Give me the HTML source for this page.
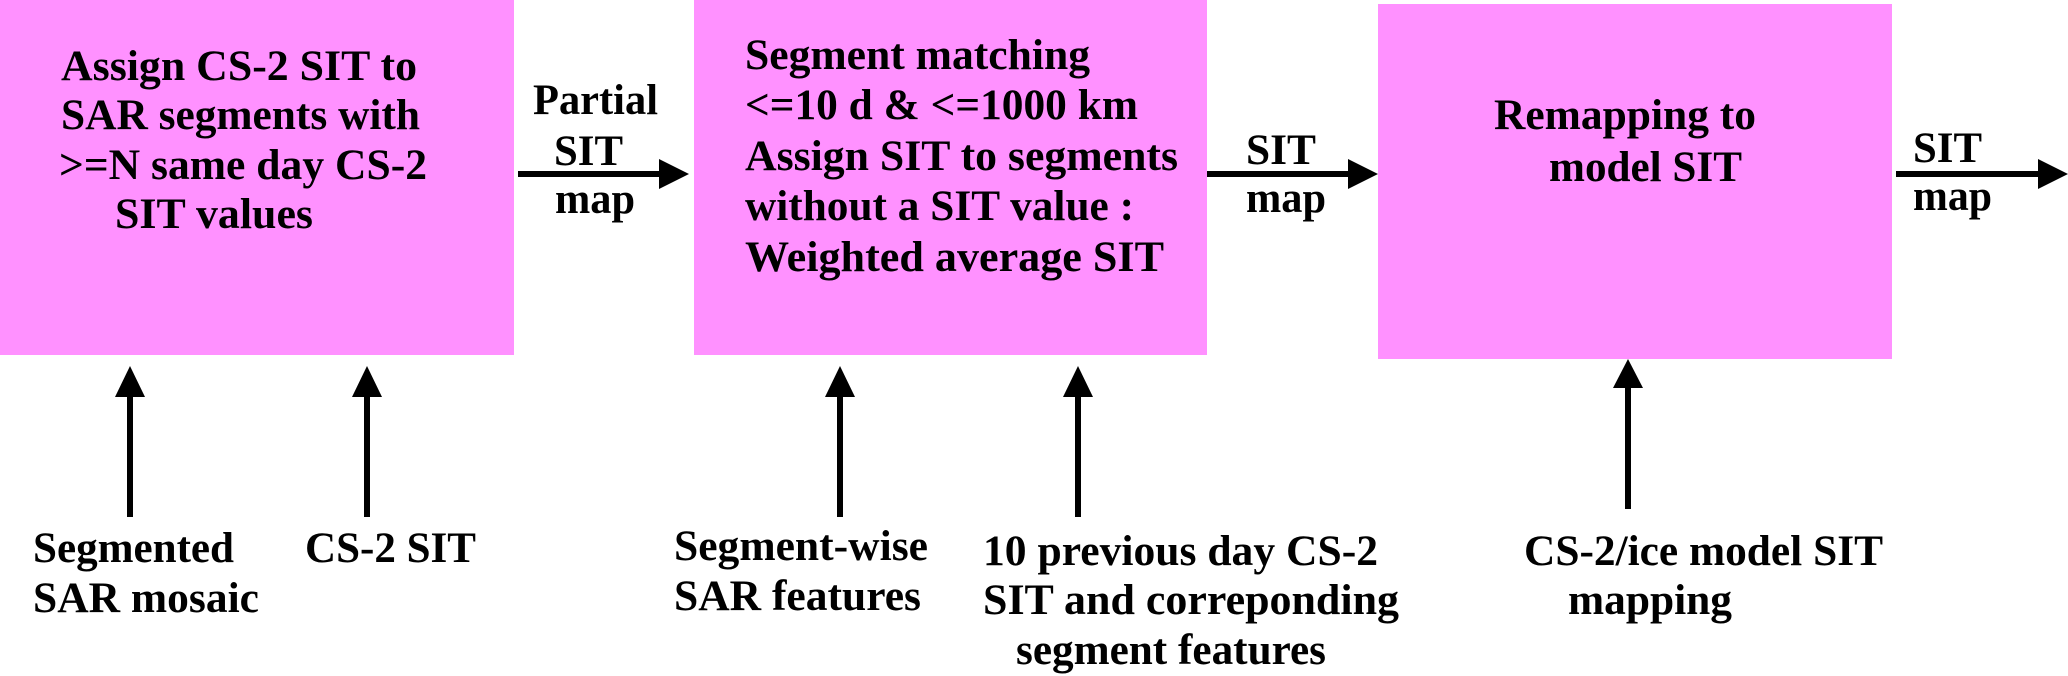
<!DOCTYPE html>
<html><head><style>html,body{margin:0;padding:0;background:#fff;}svg{display:block;}</style></head>
<body>
<svg width="2068" height="676" viewBox="0 0 2068 676" xmlns="http://www.w3.org/2000/svg">
<rect x="0" y="0" width="514" height="355" fill="#ff91ff"/>
<rect x="694" y="0" width="513" height="355" fill="#ff91ff"/>
<rect x="1378" y="4" width="514" height="355" fill="#ff91ff"/>
<g stroke="#000" stroke-width="6" fill="none">
<line x1="518" y1="174" x2="662" y2="174"/>
<line x1="1207" y1="174" x2="1350" y2="174"/>
<line x1="1896" y1="174" x2="2040" y2="174"/>
<line x1="130" y1="395" x2="130" y2="517"/>
<line x1="367" y1="395" x2="367" y2="517"/>
<line x1="840" y1="395" x2="840" y2="517"/>
<line x1="1078" y1="395" x2="1078" y2="517"/>
<line x1="1628" y1="386" x2="1628" y2="509"/>
</g>
<g fill="#000">
<polygon points="689,174 659,159 659,189"/>
<polygon points="1378,174 1348,159 1348,189"/>
<polygon points="2068,174 2038,159 2038,189"/>
<polygon points="130,366 115,397 145,397"/>
<polygon points="367,366 352,397 382,397"/>
<polygon points="840,366 825,397 855,397"/>
<polygon points="1078,366 1063,397 1093,397"/>
<polygon points="1628,359 1613,388 1643,388"/>
</g>
<g font-family="Liberation Serif, serif" font-weight="bold" font-size="43" fill="#000">
<text x="61" y="80" textLength="356" lengthAdjust="spacingAndGlyphs">Assign CS-2 SIT to</text>
<text x="61" y="129" textLength="359" lengthAdjust="spacingAndGlyphs">SAR segments with</text>
<text x="59" y="179" textLength="368" lengthAdjust="spacingAndGlyphs">&gt;=N same day CS-2</text>
<text x="115" y="228" textLength="198" lengthAdjust="spacingAndGlyphs">SIT values</text>
<text x="533" y="114" textLength="125" lengthAdjust="spacingAndGlyphs">Partial</text>
<text x="554" y="165" textLength="69" lengthAdjust="spacingAndGlyphs">SIT</text>
<text x="555" y="213" textLength="80" lengthAdjust="spacingAndGlyphs">map</text>
<text x="745" y="69" textLength="345" lengthAdjust="spacingAndGlyphs">Segment matching</text>
<text x="745" y="119" textLength="393" lengthAdjust="spacingAndGlyphs">&lt;=10 d &amp; &lt;=1000 km</text>
<text x="745" y="170" textLength="433" lengthAdjust="spacingAndGlyphs">Assign SIT to segments</text>
<text x="745" y="220" textLength="389" lengthAdjust="spacingAndGlyphs">without a SIT value :</text>
<text x="745" y="271" textLength="419" lengthAdjust="spacingAndGlyphs">Weighted average SIT</text>
<text x="1246" y="164" textLength="70" lengthAdjust="spacingAndGlyphs">SIT</text>
<text x="1246" y="212" textLength="80" lengthAdjust="spacingAndGlyphs">map</text>
<text x="1494" y="129" textLength="262" lengthAdjust="spacingAndGlyphs">Remapping to</text>
<text x="1549" y="181" textLength="193" lengthAdjust="spacingAndGlyphs">model SIT</text>
<text x="1913" y="162" textLength="69" lengthAdjust="spacingAndGlyphs">SIT</text>
<text x="1913" y="210" textLength="79" lengthAdjust="spacingAndGlyphs">map</text>
<text x="33" y="562" textLength="201" lengthAdjust="spacingAndGlyphs">Segmented</text>
<text x="33" y="612" textLength="226" lengthAdjust="spacingAndGlyphs">SAR mosaic</text>
<text x="305" y="562" textLength="171" lengthAdjust="spacingAndGlyphs">CS-2 SIT</text>
<text x="674" y="560" textLength="254" lengthAdjust="spacingAndGlyphs">Segment-wise</text>
<text x="674" y="610" textLength="247" lengthAdjust="spacingAndGlyphs">SAR features</text>
<text x="983" y="565" textLength="395" lengthAdjust="spacingAndGlyphs">10 previous day CS-2</text>
<text x="983" y="614" textLength="416" lengthAdjust="spacingAndGlyphs">SIT and correponding</text>
<text x="1016" y="664" textLength="310" lengthAdjust="spacingAndGlyphs">segment features</text>
<text x="1524" y="565" textLength="359" lengthAdjust="spacingAndGlyphs">CS-2/ice model SIT</text>
<text x="1568" y="614" textLength="164" lengthAdjust="spacingAndGlyphs">mapping</text>
</g>
</svg>
</body></html>
